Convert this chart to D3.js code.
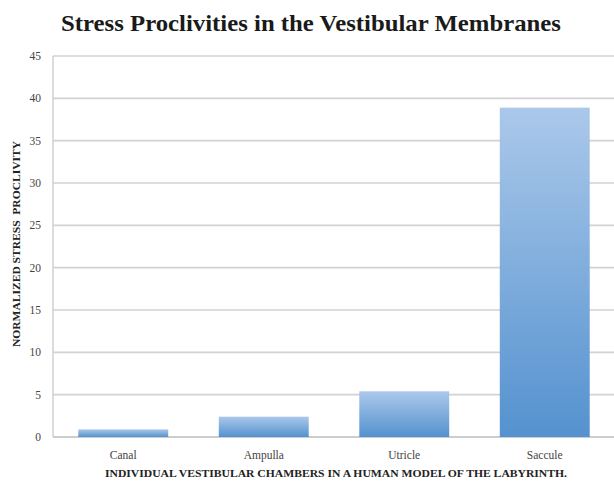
<!DOCTYPE html>
<html><head><meta charset="utf-8">
<script src="https://cdn.jsdelivr.net/npm/d3@7"></script>
<style>body{margin:0;background:#fff}</style>
</head><body>
<svg id="c" width="614" height="482"></svg>
<script>
const categories = ["Canal", "Ampulla", "Utricle", "Saccule"];
const values = [0.9, 2.4, 5.4, 38.9];
const yTicks = [0, 5, 10, 15, 20, 25, 30, 35, 40, 45];
const title = "Stress Proclivities in the Vestibular Membranes";
const yTitle = "NORMALIZED STRESS  PROCLIVITY";
const xTitle = "INDIVIDUAL VESTIBULAR CHAMBERS IN A HUMAN MODEL OF THE LABYRINTH.";

const svg = d3.select("#c");
const m = {l: 53, r: 614, t: 56, b: 437};
const x = d3.scaleBand().domain(categories).range([m.l, m.r + 1]).paddingInner(0.36).paddingOuter(0.18);
const y = d3.scaleLinear().domain([0, 45]).range([m.b, m.t]);

const defs = svg.append("defs");
const g = defs.append("linearGradient").attr("id", "bg").attr("x1", 0).attr("y1", 0).attr("x2", 0).attr("y2", 1);
g.append("stop").attr("offset", "0%").attr("stop-color", "#abc8ea");
g.append("stop").attr("offset", "100%").attr("stop-color", "#5492cf");

svg.append("text").attr("x", 311).attr("y", 31).attr("text-anchor", "middle")
  .attr("font-family", "Liberation Serif, DejaVu Serif, serif").attr("font-weight", "bold")
  .attr("font-size", 24).attr("fill", "#1a1a1a")
  .attr("textLength", 500).attr("lengthAdjust", "spacingAndGlyphs").text(title);

// gridlines
svg.append("g").selectAll("line").data(yTicks).join("line")
  .attr("x1", m.l).attr("x2", 614).attr("y1", d => y(d)).attr("y2", d => y(d))
  .attr("stroke", d => d === 0 ? "#bdbdbd" : "#d2d2d2").attr("stroke-width", 1.6);
svg.append("line").attr("x1", m.l).attr("x2", m.l).attr("y1", y(45)).attr("y2", y(0))
  .attr("stroke", "#d0d0d0").attr("stroke-width", 1.5);

// y tick labels
svg.append("g").selectAll("text").data(yTicks).join("text")
  .attr("x", 41).attr("y", d => y(d) + 4).attr("text-anchor", "end")
  .attr("font-family", "Liberation Serif, DejaVu Serif, serif").attr("font-size", 11.5).attr("fill", "#444")
  .text(d => d);

// bars
svg.append("g").selectAll("rect").data(values).join("rect")
  .attr("x", (d, i) => x(categories[i])).attr("width", x.bandwidth())
  .attr("y", d => y(d)).attr("height", d => y(0) - y(d))
  .attr("fill", "url(#bg)");

// x labels
svg.append("g").selectAll("text").data(categories).join("text")
  .attr("x", d => x(d) + x.bandwidth() / 2).attr("y", 459).attr("text-anchor", "middle")
  .attr("font-family", "Liberation Serif, DejaVu Serif, serif").attr("font-size", 11.5).attr("fill", "#444")
  .text(d => d);

svg.append("text").attr("x", 336).attr("y", 477).attr("text-anchor", "middle")
  .attr("font-family", "Liberation Serif, DejaVu Serif, serif").attr("font-weight", "bold")
  .attr("font-size", 11).attr("fill", "#222")
  .attr("textLength", 462).attr("lengthAdjust", "spacingAndGlyphs").text(xTitle);

svg.append("text").attr("transform", "translate(20,244) rotate(-90)").attr("text-anchor", "middle")
  .attr("font-family", "Liberation Serif, DejaVu Serif, serif").attr("font-weight", "bold")
  .attr("font-size", 11).attr("fill", "#222").attr("xml:space", "preserve")
  .attr("textLength", 206).attr("lengthAdjust", "spacingAndGlyphs").text(yTitle);
</script>
</body></html>
